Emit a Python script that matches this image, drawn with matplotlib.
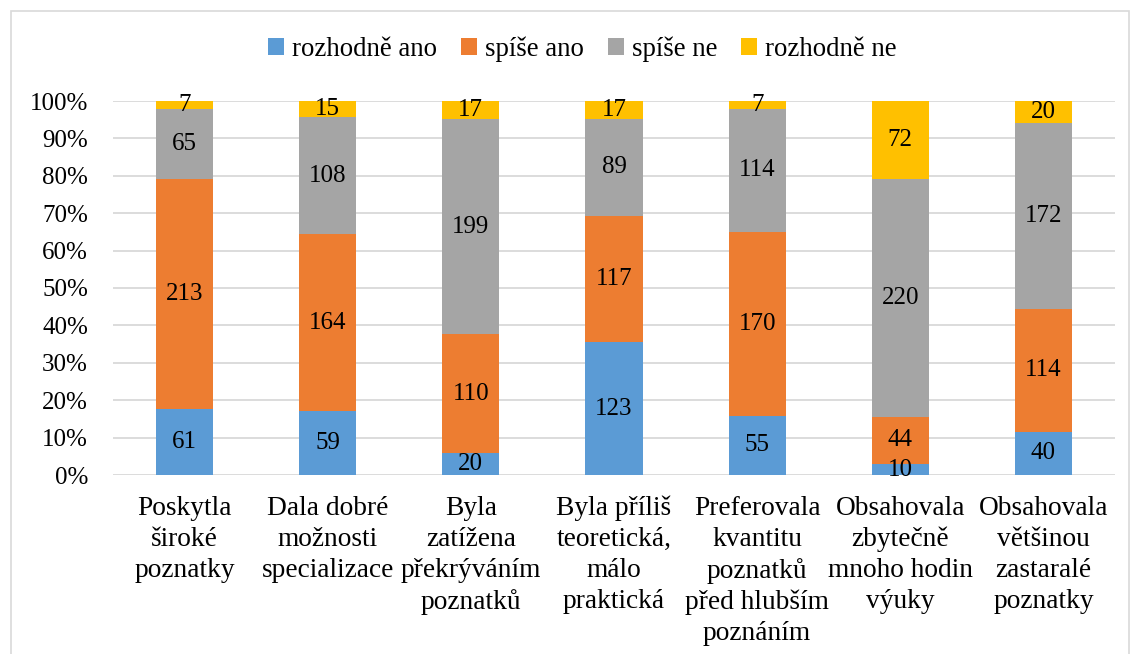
import matplotlib.pyplot as plt
from matplotlib.patches import Rectangle
import numpy as np

categories = [
    "Poskytla\nširoké\npoznatky",
    "Dala dobré\nmožnosti\nspecializace",
    "Byla\nzatížena\npřekrýváním\npoznatků",
    "Byla příliš\nteoretická,\nmálo\npraktická",
    "Preferovala\nkvantitu\npoznatků\npřed hlubším\npoznáním",
    "Obsahovala\nzbytečně\nmnoho hodin\nvýuky",
    "Obsahovala\nvětšinou\nzastaralé\npoznatky",
]
series_names = ["rozhodně ano", "spíše ano", "spíše ne", "rozhodně ne"]
rozhodne_ano = [61, 59, 20, 123, 55, 10, 40]
spise_ano = [213, 164, 110, 117, 170, 44, 114]
spise_ne = [65, 108, 199, 89, 114, 220, 172]
rozhodne_ne = [7, 15, 17, 17, 7, 72, 20]
colors = ["#5B9BD5", "#ED7D31", "#A5A5A5", "#FFC000"]

plt.rcParams['font.family'] = ['Liberation Serif', 'DejaVu Serif']

series = np.array([rozhodne_ano, spise_ano, spise_ne, rozhodne_ne], dtype=float)
totals = series.sum(axis=0)
shares = series / totals * 100

fig = plt.figure(figsize=(11.31, 6.54), dpi=100)
ax = fig.add_axes([113 / 1131, 1 - 475 / 654, (1115 - 113) / 1131, (475 - 101) / 654])

x = np.arange(len(categories))
bottom = np.zeros(len(categories))
for name, vals, share, col in zip(series_names, series, shares, colors):
    ax.bar(x, share, 0.4, bottom=bottom, color=col, label=name, zorder=3)
    for xi, b, s, v in zip(x, bottom, share, vals):
        ax.text(xi, b + s / 2, f"{int(v)}", ha="center", va="center",
                fontsize=18, color="black", zorder=4)
    bottom += share

ax.set_xlim(-0.5, len(categories) - 0.5)
ax.set_ylim(0, 100)
ax.set_yticks(np.arange(0, 101, 10))
ax.set_yticklabels([f"{v}%" for v in range(0, 101, 10)], fontsize=18)
ax.set_xticks(x)
ax.set_xticklabels(categories, fontsize=19.7, linespacing=1.31)
ax.tick_params(axis="x", length=0, pad=15)
ax.tick_params(axis="y", length=0, pad=18)
ax.yaxis.grid(True, color="#D9D9D9", linewidth=1.3, zorder=0)
for sp in ax.spines.values():
    sp.set_visible(False)

leg = fig.legend(loc="center", bbox_to_anchor=(0.515, 1 - 49 / 654), ncol=4,
                 frameon=False, fontsize=19.3, handlelength=0.6, handleheight=0.6,
                 handletextpad=0.3, columnspacing=0.89)

fig.patches.append(Rectangle((11 / 1131, -0.1), 1118 / 1131, 1.1 - 11 / 654,
                             transform=fig.transFigure, fill=False,
                             edgecolor="#D9D9D9", linewidth=1.2))

fig.savefig("out.png", dpi=100)
